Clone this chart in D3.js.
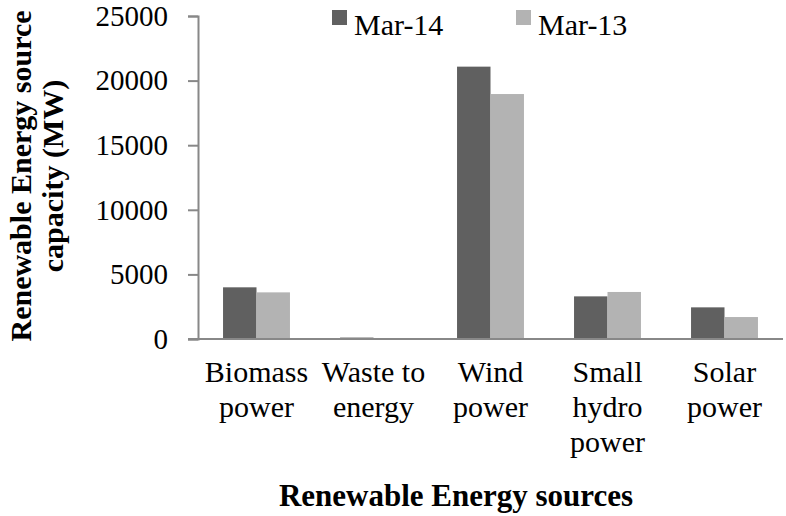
<!DOCTYPE html>
<html>
<head>
<meta charset="utf-8">
<script src="https://cdn.jsdelivr.net/npm/d3@7"></script>
<style>
  body { margin: 0; background: #fff; }
  text { font-family: "Liberation Serif", "Times New Roman", serif; fill: #000; }
</style>
</head>
<body>
<svg id="chart" width="786" height="516"></svg>
<script>
const categories = [
    ["Biomass", "power"],
    ["Waste to", "energy"],
    ["Wind", "power"],
    ["Small", "hydro", "power"],
    ["Solar", "power"]
];
const seriesNames = ["Mar-14", "Mar-13"];
const mar14 = [4000, 110, 21080, 3300, 2450];
const mar13 = [3610, 40, 18960, 3640, 1700];
const yTicks = [0, 5000, 10000, 15000, 20000, 25000];
const colors = ["#606060", "#b3b3b3"];

const svg = d3.select('#chart');
const plotLeft = 198, plotRight = 783, plotTop = 16, plotBottom = 339;

const x = d3.scaleBand()
    .domain(d3.range(categories.length))
    .range([plotLeft, plotRight])
    .padding(0);

const inner = d3.scaleBand()
    .domain(d3.range(seriesNames.length))
    .range([x.bandwidth() * 0.214, x.bandwidth() * 0.786])
    .padding(0);

const y = d3.scaleLinear()
    .domain([0, 25000])
    .range([plotBottom, plotTop]);

const values = [mar14, mar13];

// bars
values.forEach((vals, s) => {
    svg.append('g')
        .selectAll('rect')
        .data(vals)
        .enter().append('rect')
        .attr('x', (d, i) => x(i) + inner(s))
        .attr('y', d => y(d))
        .attr('width', inner.bandwidth())
        .attr('height', d => y(0) - y(d))
        .attr('fill', colors[s]);
});

// y axis
const yAxis = svg.append('g')
    .attr('transform', `translate(${plotLeft},0)`)
    .call(d3.axisLeft(y).tickValues(yTicks).tickSize(10).tickPadding(20).tickFormat(d3.format('d')));
yAxis.select('.domain').attr('stroke', '#888').attr('stroke-width', 2);
yAxis.selectAll('.tick line').attr('stroke', '#888').attr('stroke-width', 2);
yAxis.selectAll('.tick text')
    .attr('font-size', 29)
    .style('font-family', '"Liberation Serif", serif')
    .attr('fill', '#000');

// x axis line
svg.append('line')
    .attr('x1', plotLeft - 10).attr('x2', plotRight)
    .attr('y1', y(0)).attr('y2', y(0))
    .attr('stroke', '#888').attr('stroke-width', 2);

// category labels
const catLabels = svg.append('g')
    .selectAll('text')
    .data(categories)
    .enter().append('text')
    .attr('text-anchor', 'middle')
    .attr('font-size', 30)
    .attr('transform', (d, i) => `translate(${x(i) + x.bandwidth() / 2},382)`);
catLabels.selectAll('tspan')
    .data(d => d)
    .enter().append('tspan')
    .attr('x', 0)
    .attr('y', (d, i) => i * 35)
    .text(d => d);

// x title
svg.append('text')
    .attr('x', 456).attr('y', 506)
    .attr('text-anchor', 'middle')
    .attr('font-size', 31)
    .attr('font-weight', 'bold')
    .text('Renewable Energy sources');

// y title
const yTitle = svg.append('text')
    .attr('transform', 'translate(0,176) rotate(-90)')
    .attr('text-anchor', 'middle')
    .attr('font-size', 30)
    .attr('font-weight', 'bold');
yTitle.append('tspan').attr('x', 0).attr('y', 31).text('Renewable Energy source');
yTitle.append('tspan').attr('x', 0).attr('y', 63).text('capacity (MW)');

// legend
const legendX = [332, 516];
const legend = svg.append('g')
    .selectAll('g')
    .data(seriesNames)
    .enter().append('g')
    .attr('transform', (d, i) => `translate(${legendX[i]},10)`);
legend.append('rect')
    .attr('width', 15).attr('height', 15)
    .attr('fill', (d, i) => colors[i]);
legend.append('text')
    .attr('x', 22).attr('y', 16)
    .attr('dy', '0.3em')
    .attr('font-size', 30)
    .text(d => d);
</script>
</body>
</html>
